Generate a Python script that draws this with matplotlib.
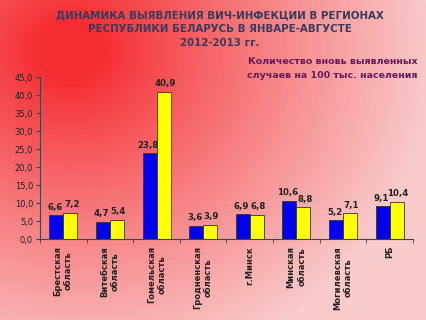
import numpy as np
import matplotlib
matplotlib.use("Agg")
import matplotlib.pyplot as plt

categories = ["Брестская\nобласть", "Витебская\nобласть", "Гомельская\nобласть",
              "Гродненская\nобласть", "г.Минск", "Минская\nобласть",
              "Могилевская\nобласть", "РБ"]
values_2012 = [6.6, 4.7, 23.8, 3.6, 6.9, 10.6, 5.2, 9.1]
values_2013 = [7.2, 5.4, 40.9, 3.9, 6.8, 8.8, 7.1, 10.4]
yticks = [0, 5, 10, 15, 20, 25, 30, 35, 40, 45]

W, H = 427, 320
fig = plt.figure(figsize=(W / 100, H / 100), dpi=100)

# background gradient
bg = fig.add_axes([0, 0, 1, 1])
yy, xx = np.mgrid[0:H, 0:W]
d1 = np.sqrt(((xx - 70) / 1.1) ** 2 + ((yy - 50) / 1.0) ** 2)
t = np.clip((d1 - 30) / 300.0, 0, 1) ** 0.9
red = np.array([245, 45, 50]) / 255.0
pink = np.array([249, 203, 203]) / 255.0
img = red[None, None, :] * (1 - t[..., None]) + pink[None, None, :] * t[..., None]
bg.imshow(img, aspect="auto", extent=[0, 1, 0, 1], origin="upper")
bg.set_axis_off()

ax = fig.add_axes([40 / W, 1 - 239 / H, (413 - 40) / W, (239 - 77) / H])
ax.set_facecolor("none")
x = np.arange(len(categories))
bw = 0.3
b1 = ax.bar(x - bw / 2, values_2012, bw, color="#0000ee", edgecolor="#333333", linewidth=0.6)
b2 = ax.bar(x + bw / 2, values_2013, bw, color="#ffff00", edgecolor="#333333", linewidth=0.6)

def fmt(v):
    return f"{v:.1f}".replace(".", ",")

for rect, v in zip(b1, values_2012):
    ax.text(rect.get_x() + rect.get_width() / 2 - 0.03, v + 1.0, fmt(v), ha="center", va="bottom",
            fontsize=6.2, fontweight="bold", color="#222222")
for rect, v in zip(b2, values_2013):
    ax.text(rect.get_x() + rect.get_width() / 2 + 0.03, v + 1.0, fmt(v), ha="center", va="bottom",
            fontsize=6.2, fontweight="bold", color="#222222")

ax.set_xlim(-0.5, len(categories) - 0.5)
ax.set_ylim(0, 45)
ax.set_yticks(yticks)
ax.set_yticklabels([fmt(v) for v in yticks], fontsize=6, color="#222222")
ax.set_xticks(x)
ax.set_xticklabels(categories, rotation=90, fontsize=6, fontweight="bold",
                   ha="center", va="top", multialignment="center", color="#222222")
ax.set_xticks(np.arange(len(categories) + 1) - 0.5, minor=True)
ax.tick_params(axis="x", which="major", length=0, pad=5)
ax.tick_params(axis="x", which="minor", length=3, color="#444444", direction="out")
ax.tick_params(axis="y", length=3, color="#444444", pad=2)
for s in ["top", "right"]:
    ax.spines[s].set_visible(False)
for s in ["left", "bottom"]:
    ax.spines[s].set_color("#444444")
    ax.spines[s].set_linewidth(0.8)

title_color = "#3a3a5c"
fs_t = 7.4
fig.text(220 / W, 1 - 15 / H, "ДИНАМИКА ВЫЯВЛЕНИЯ ВИЧ-ИНФЕКЦИИ В РЕГИОНАХ",
         ha="center", va="center", fontsize=fs_t, fontweight="bold", color=title_color)
fig.text(220 / W, 1 - 29 / H, "РЕСПУБЛИКИ БЕЛАРУСЬ В ЯНВАРЕ-АВГУСТЕ",
         ha="center", va="center", fontsize=fs_t, fontweight="bold", color=title_color)
fig.text(220 / W, 1 - 43 / H, "2012-2013 гг.",
         ha="center", va="center", fontsize=fs_t, fontweight="bold", color=title_color)
sub_color = "#6a1a5c"
fig.text(418 / W, 1 - 62 / H, "Количество вновь выявленных",
         ha="right", va="center", fontsize=6.8, fontweight="bold", color=sub_color)
fig.text(418 / W, 1 - 75 / H, "случаев на 100 тыс. населения",
         ha="right", va="center", fontsize=6.8, fontweight="bold", color=sub_color)

fig.savefig("out.png", dpi=100)
